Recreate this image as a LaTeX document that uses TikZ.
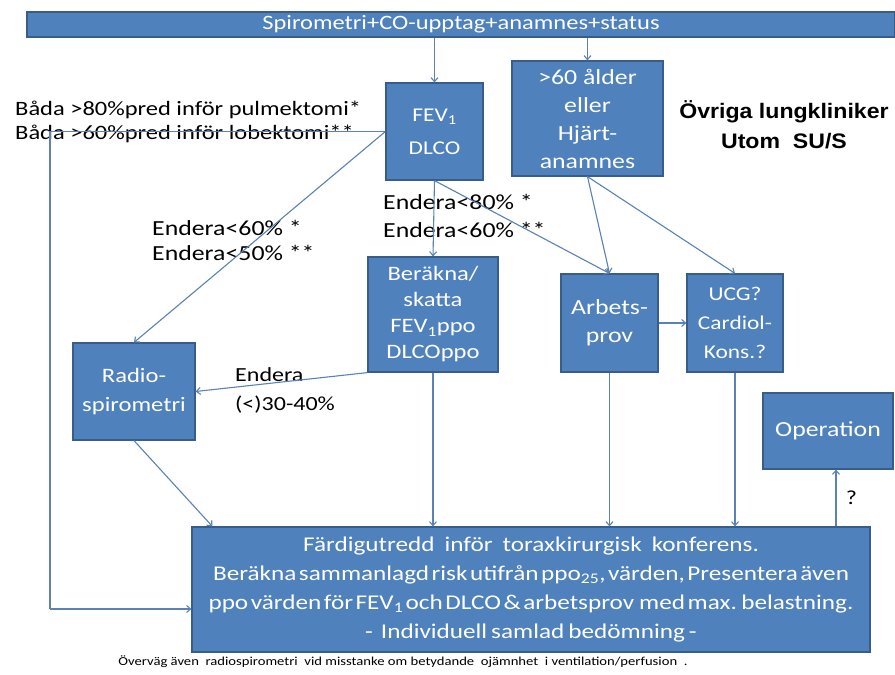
\documentclass[tikz,border=0pt]{standalone}
\usepackage{fontspec}
\setmainfont[FakeStretch=1.2]{Carlito}
\newfontfamily\headfont[FakeStretch=1.1]{Liberation Sans}
\usetikzlibrary{arrows.meta}
\definecolor{boxblue}{HTML}{4F81BD}
\definecolor{boxline}{HTML}{385D8A}
\definecolor{linkblue}{HTML}{5A82B4}
\tikzset{
  box/.style={draw=boxline, line width=1.2pt, fill=boxblue, text=white,
    align=center, inner sep=0pt, font=\fontsize{21.5}{28}\selectfont},
  link/.style={draw=linkblue, line width=1.1pt,
    -{Straight Barb[length=4pt,width=7pt]}},
  note/.style={anchor=west, inner sep=0pt, font=\fontsize{21.5}{28}\selectfont}
}
\begin{document}
\begin{tikzpicture}[x=1pt,y=-1pt]
      \useasboundingbox[fill=white] (0,0) rectangle (895,675);
      % boxes
      \node[box, minimum width=868pt, minimum height=25pt,
        font=\fontsize{20.4}{22}\selectfont] (top) at (461,24.5)
        {Spirometri+CO-upptag+anamnes+status};
      \node[box, minimum width=97pt, minimum height=97pt,
        font=\fontsize{19.5}{33}\selectfont] (fev) at (434.5,131.5)
        {FEV\textsubscript{1}\\DLCO};
      \node[box, minimum width=151pt, minimum height=115pt] (hjart) at (587.5,118.5)
        {>60 ålder\\eller\\Hjärt-\\anamnes};
      \node[box, minimum width=130pt, minimum height=115pt,
        font=\fontsize{20.5}{26}\selectfont] (berakna) at (433,314.5)
        {Beräkna/\\skatta\\FEV\textsubscript{1}ppo\\DLCOppo};
      \node[box, minimum width=122pt, minimum height=97pt,
        font=\fontsize{20.5}{29}\selectfont] (radio) at (134,391.5)
        {Radio-\\spirometri};
      \node[box, minimum width=97pt, minimum height=98pt] (arbets) at (609.5,323)
        {Arbets-\\prov};
      \node[box, minimum width=96pt, minimum height=98pt,
        font=\fontsize{19.5}{29}\selectfont] (ucg) at (735,323)
        {UCG?\\Cardiol-\\Kons.?};
      \node[box, minimum width=130pt, minimum height=76pt] (operation) at (828,431)
        {Operation};
      \node[box, minimum width=678pt, minimum height=125pt,
        font=\fontsize{21}{29}\selectfont] (big) at (531,589.5)
        {{\spaceskip=10pt Färdigutredd inför toraxkirurgisk konferens.}\\
         {\spaceskip=2.5pt Beräkna sammanlagd risk utifrån ppo\textsubscript{25}, värden, Presentera även}\\
         {\spaceskip=2.5pt ppo värden för FEV\textsubscript{1} och DLCO \& arbetsprov\ \ med max. belastning.}\\
         {\spaceskip=4pt -\ \ Individuell samlad bedömning -}};
      % texts
      \node[note, font=\fontsize{20.4}{24}\selectfont] (pulm) at (15,110)
        {Båda >80\%pred inför pulmektomi*};
      \node[note, font=\fontsize{20.4}{24}\selectfont] (lob) at (15,134)
        {Båda >60\%pred inför lobektomi**};
      \node[note] (e60) at (152,228) {Endera<60\% *};
      \node[note] (e50) at (152,253) {Endera<50\% **};
      \node[note] (e80) at (383,202) {Endera<80\% *};
      \node[note] (e60b) at (383,230) {Endera<60\% **};
      \node[note, font=\fontsize{20}{24}\selectfont] (endera) at (235,375) {Endera};
      \node[note, font=\fontsize{20}{24}\selectfont] (e3040) at (235,405) {(<)30-40\%};
      \node[align=center, font=\headfont\bfseries\fontsize{21}{30}\selectfont]
        (ovriga) at (784,125) {Övriga lungkliniker\\Utom\ \ SU/S};
      \node[font=\fontsize{12.2}{14}\selectfont] (overvag) at (403,662)
        {Överväg även\ \ radiospirometri\ \ vid misstanke om betydande\ \ ojämnhet\ \ i ventilation/perfusion\ \ .};
      % connectors
      \coordinate (loopx) at (50,0);
      \coordinate (radin) at ([xshift=21pt]big.north west);
      \coordinate (bigin) at ([yshift=-19.5pt]big.west);
      \coordinate (opfoot) at ([xshift=8pt]operation.south);
      \begin{scope}[link]
        \draw (fev.north |- top.south) to (fev.north);
        \draw (hjart.north |- top.south) to (hjart.north);
        \draw[-] (fev.west) -- (fev.west -| loopx) -- (loopx |- bigin);
        \draw (loopx |- bigin) to (bigin);
        \draw (fev.west) to (radio.north);
        \draw (fev.south) to (berakna.north);
        \draw (fev.south) to (arbets.north);
        \draw (hjart.south) to (arbets.north);
        \draw (hjart.south) to (ucg.north);
        \draw (berakna.south west) to (radio.east);
        \draw (arbets.east) to (ucg.west);
        \draw (radio.south) to (radin);
        \draw (berakna.south) to (berakna.south |- big.north);
        \draw (arbets.south) to (arbets.south |- big.north);
        \draw (ucg.south) to (ucg.south |- big.north);
        \draw (opfoot |- big.north) to node[right=6pt, text=black,
          font=\fontsize{20}{20}\selectfont] (q) {?} (opfoot);
      \end{scope}
    \end{tikzpicture}
\end{document}
